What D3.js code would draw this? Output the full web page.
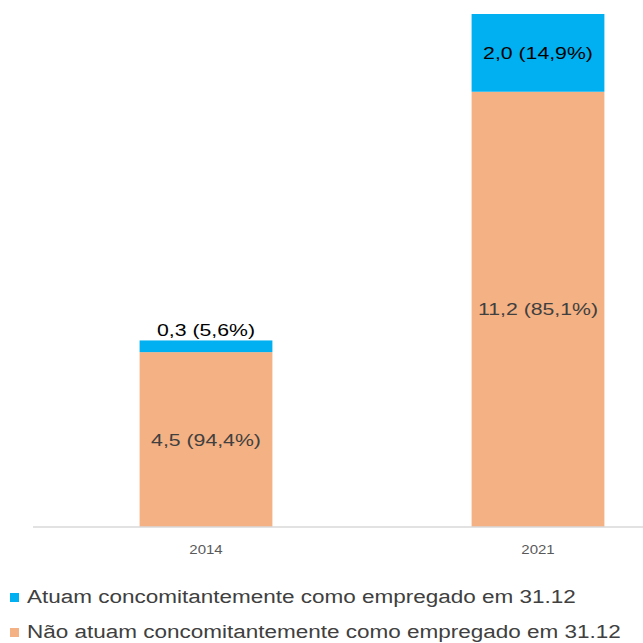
<!DOCTYPE html>
<html>
<head>
<meta charset="utf-8">
<script src="https://cdn.jsdelivr.net/npm/d3@7"></script>
<style>
  body { margin: 0; background: #fff; }
  text { font-family: "Liberation Sans", Arial, sans-serif; }
</style>
</head>
<body>
<script>
// chart data
const years = ['2014', '2021'];
const naoAtuam = [4.5, 11.2];
const atuam = [0.3, 2.0];
const naoLabels = ['4,5 (94,4%)', '11,2 (85,1%)'];
const atuamLabels = ['0,3 (5,6%)', '2,0 (14,9%)'];
const legendNames = [
  'Atuam concomitantemente como empregado em 31.12',
  'Não atuam concomitantemente como empregado em 31.12'
];

const width = 643, height = 643;
const baseY = 527;
const stretch = 1.25; // the original text is wider than it is tall
const blue = '#00b0f0', orange = '#f4b183';

const svg = d3.select('body').append('svg')
  .attr('width', width)
  .attr('height', height);

// text drawn with a horizontal stretch around its anchor point
const stretchedText = function (parent, px, py, str, size, fill, anchor) {
  return parent.append('text')
    .attr('transform', `translate(${px},${py}) scale(${stretch},1)`)
    .attr('dy', '0.35em')
    .attr('text-anchor', anchor || 'middle')
    .attr('font-size', size)
    .attr('fill', fill)
    .text(str);
};

const x = d3.scaleBand()
  .domain(years)
  .range([40, 704])
  .paddingInner(0.6)
  .paddingOuter(0.3);

const y = d3.scaleLinear()
  .domain([0, 13.2])
  .range([baseY, 14]);

// bars
const g = svg.append('g');
years.forEach((yr, i) => {
  const x0 = x(yr);
  const bw = x.bandwidth();
  const top1 = y(naoAtuam[i]);
  const top2 = y(naoAtuam[i] + atuam[i]);

  g.append('rect')
    .attr('x', x0).attr('y', top1)
    .attr('width', bw).attr('height', baseY - top1)
    .attr('fill', orange);

  g.append('rect')
    .attr('x', x0).attr('y', top2)
    .attr('width', bw).attr('height', top1 - top2)
    .attr('fill', blue);

  // labels
  stretchedText(g, x0 + bw / 2, (top1 + baseY) / 2, naoLabels[i], 17, '#404040');

  const small = (top1 - top2) < 20;
  stretchedText(g, x0 + bw / 2, small ? top2 - 10 : (top1 + top2) / 2,
    atuamLabels[i], 17, '#000');
});

// x axis
const xAxis = svg.append('g')
  .attr('transform', `translate(0,${baseY})`)
  .call(d3.axisBottom(x).tickSize(0).tickFormat(''));
xAxis.select('.domain').remove();
xAxis.append('line')
  .attr('x1', 33).attr('x2', width)
  .attr('stroke', '#d9d9d9').attr('stroke-width', 1.5);
years.forEach((yr) => {
  stretchedText(xAxis, x(yr) + x.bandwidth() / 2, 23, yr, 12, '#595959');
});

// legend
const legend = svg.append('g');
[blue, orange].forEach((c, i) => {
  const ly = 597 + i * 35;
  legend.append('rect')
    .attr('x', 10).attr('y', ly - 4)
    .attr('width', 9).attr('height', 9)
    .attr('fill', c);
  stretchedText(legend, 27, ly, legendNames[i], 18, '#404040', 'start');
});
</script>
</body>
</html>
